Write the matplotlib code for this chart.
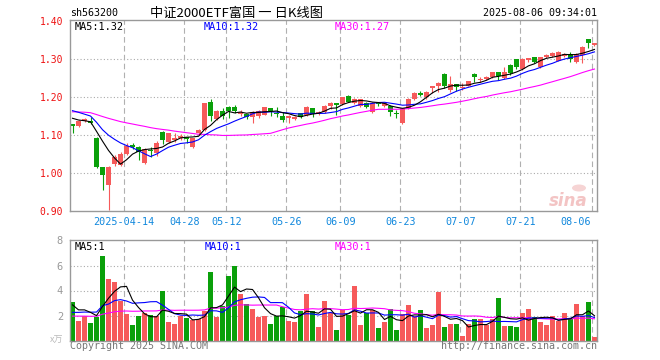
import matplotlib.pyplot as plt
from matplotlib.transforms import blended_transform_factory
from matplotlib.patches import Ellipse
import numpy as np
import pandas as pd

# daily K-line, 2025-03-31 .. 2025-08-06 (88 sessions)
opens = [1.129, 1.124, 1.136, 1.137, 1.093, 1.017, 0.968, 1.024, 1.022, 1.050,
         1.074, 1.068, 1.027, 1.061, 1.052, 1.108, 1.081, 1.087, 1.092, 1.094,
         1.068, 1.104, 1.113, 1.187, 1.141, 1.164, 1.174, 1.174, 1.156, 1.154,
         1.148, 1.150, 1.153, 1.170, 1.157, 1.150, 1.146, 1.141, 1.157, 1.153,
         1.170, 1.157, 1.161, 1.176, 1.183, 1.182, 1.203, 1.183, 1.176, 1.185,
         1.160, 1.185, 1.176, 1.176, 1.157, 1.131, 1.170, 1.195, 1.211, 1.201,
         1.224, 1.229, 1.261, 1.218, 1.234, 1.223, 1.229, 1.261, 1.244, 1.247,
         1.252, 1.266, 1.249, 1.284, 1.300, 1.273, 1.297, 1.304, 1.278, 1.306,
         1.309, 1.296, 1.309, 1.313, 1.293, 1.311, 1.352, 1.337]
highs = [1.130, 1.139, 1.144, 1.147, 1.096, 1.017, 1.019, 1.047, 1.056, 1.079,
         1.078, 1.070, 1.065, 1.068, 1.084, 1.110, 1.106, 1.106, 1.102, 1.095,
         1.092, 1.116, 1.185, 1.194, 1.166, 1.170, 1.175, 1.179, 1.165, 1.156,
         1.163, 1.165, 1.174, 1.172, 1.173, 1.160, 1.152, 1.150, 1.159, 1.175,
         1.172, 1.164, 1.178, 1.187, 1.185, 1.201, 1.205, 1.197, 1.196, 1.187,
         1.186, 1.188, 1.185, 1.178, 1.166, 1.171, 1.197, 1.213, 1.216, 1.216,
         1.230, 1.239, 1.262, 1.254, 1.235, 1.238, 1.243, 1.262, 1.252, 1.255,
         1.267, 1.267, 1.278, 1.286, 1.301, 1.302, 1.303, 1.305, 1.306, 1.313,
         1.318, 1.322, 1.317, 1.318, 1.315, 1.333, 1.353, 1.342]
lows = [1.105, 1.122, 1.134, 1.128, 1.012, 0.955, 0.903, 1.019, 1.018, 1.048,
        1.062, 1.034, 1.024, 1.043, 1.045, 1.077, 1.078, 1.082, 1.088, 1.079,
        1.066, 1.100, 1.111, 1.138, 1.139, 1.141, 1.145, 1.157, 1.150, 1.141,
        1.131, 1.144, 1.152, 1.150, 1.148, 1.134, 1.131, 1.139, 1.146, 1.151,
        1.148, 1.153, 1.159, 1.168, 1.153, 1.180, 1.186, 1.182, 1.174, 1.171,
        1.158, 1.176, 1.174, 1.150, 1.144, 1.129, 1.168, 1.193, 1.203, 1.196,
        1.211, 1.214, 1.223, 1.214, 1.216, 1.218, 1.228, 1.240, 1.240, 1.245,
        1.251, 1.245, 1.247, 1.258, 1.273, 1.270, 1.291, 1.290, 1.276, 1.302,
        1.305, 1.295, 1.305, 1.293, 1.290, 1.290, 1.330, 1.335]
closes = [1.124, 1.137, 1.141, 1.131, 1.015, 0.995, 1.015, 1.042, 1.050, 1.072,
          1.069, 1.055, 1.062, 1.058, 1.079, 1.088, 1.104, 1.093, 1.097, 1.089,
          1.091, 1.113, 1.183, 1.150, 1.164, 1.150, 1.163, 1.164, 1.161, 1.148,
          1.161, 1.163, 1.173, 1.164, 1.155, 1.139, 1.150, 1.148, 1.148, 1.174,
          1.155, 1.161, 1.176, 1.185, 1.179, 1.199, 1.188, 1.194, 1.194, 1.173,
          1.184, 1.182, 1.183, 1.161, 1.155, 1.170, 1.195, 1.211, 1.206, 1.214,
          1.229, 1.238, 1.229, 1.234, 1.226, 1.227, 1.242, 1.252, 1.246, 1.253,
          1.266, 1.255, 1.266, 1.262, 1.280, 1.300, 1.302, 1.293, 1.304, 1.310,
          1.315, 1.318, 1.314, 1.299, 1.313, 1.332, 1.341, 1.341]
volumes = [3.1, 1.6, 1.95, 1.4, 1.9, 6.75, 4.9, 4.7, 3.2, 2.1,
           1.25, 1.95, 2.2, 2.05, 2.0, 3.95, 1.5, 1.3, 2.0, 1.8,
           1.65, 1.7, 2.4, 5.5, 1.9, 2.75, 5.2, 6.0, 3.7, 2.95,
           2.55, 1.9, 2.0, 1.35, 1.95, 2.65, 1.55, 1.45, 2.35, 3.7,
           2.35, 1.05, 3.2, 2.2, 0.85, 2.45, 2.05, 4.35, 1.25, 2.2,
           2.45, 1.0, 1.5, 2.5, 0.85, 2.1, 2.85, 1.95, 2.45, 1.0,
           1.25, 3.85, 1.1, 1.3, 1.3, 0.4, 1.3, 1.7, 1.7, 1.25,
           1.7, 3.4, 1.2, 1.15, 1.1, 2.2, 2.5, 1.85, 1.5, 1.25,
           1.95, 1.55, 2.2, 1.7, 2.9, 1.95, 3.05, 0.3]

# sessions before the window (only feed the moving averages), estimated from where the MA lines start
pre_closes = [1.15, 1.16, 1.17, 1.16, 1.15, 1.16, 1.17, 1.18, 1.17, 1.16,
              1.15, 1.15, 1.16, 1.16, 1.15, 1.16, 1.17, 1.16, 1.15, 1.15,
              1.18, 1.19, 1.18, 1.18, 1.19, 1.16, 1.15, 1.145, 1.141]
pre_volumes = [1.6, 2.0, 1.8, 1.7, 1.9, 2.1, 1.6, 1.8, 1.7, 1.9,
               1.8, 1.6, 2.0, 1.9, 1.7, 1.8, 1.9, 1.7, 1.8, 1.7,
               1.6, 1.7, 1.5, 1.8, 1.65, 3.6, 1.95, 2.4, 3.2]

tick_idx = [9, 19, 26, 36, 45, 55, 65, 75, 87]
tick_labels = ["2025-04-14", "04-28", "05-12", "05-26", "06-09", "06-23", "07-07", "07-21", "08-06"]
price_ticks = [1.40, 1.30, 1.20, 1.10, 1.00, 0.90]
vol_ticks = [2, 4, 6, 8]
price_ma_text = ["MA5:1.32", "MA10:1.32", "MA30:1.27"]
vol_ma_text = ["MA5:1", "MA10:1", "MA30:1"]

RED = "#f65a5a"
GREEN = "#0aa00a"
MA_COLORS = {5: "black", 10: "#0000ff", 30: "#ff00ff"}
MONO = "DejaVu Sans Mono"
GRID = "#aaaaaa"

n = len(closes)
x = np.arange(n)
o = np.array(opens)
c = np.array(closes)
colors = np.where(c >= o, RED, GREEN)

price_all = pd.Series(pre_closes + closes)
vol_all = pd.Series(pre_volumes + volumes)
price_ma = {k: price_all.rolling(k).mean().values[-n:] for k in (5, 10, 30)}
vol_ma = {k: vol_all.rolling(k).mean().values[-n:] for k in (5, 10, 30)}

W, H = 660, 360
fig = plt.figure(figsize=(W / 100, H / 100), dpi=100)
ax = fig.add_axes([70 / W, 1 - 211 / H, 527 / W, 191 / H])
axv = fig.add_axes([70 / W, 1 - 340.5 / H, 527 / W, 100.5 / H])

xlim = (-0.42, n - 1 + 0.42)
grid_x = [i - 0.37 for i in tick_idx]

# ---- price panel
ax.vlines(x, lows, highs, colors=colors, lw=0.8, zorder=2)
ax.bar(x, np.maximum(np.abs(c - o), 0.0026), bottom=np.minimum(o, c),
       width=0.82, color=colors, linewidth=0, zorder=2)
for k in (30, 10, 5):
    ax.plot(x, price_ma[k], color=MA_COLORS[k], lw=0.8, zorder=3)
ax.set_xlim(*xlim)
ax.set_ylim(0.90, 1.4026)
ax.set_yticks(price_ticks)
ax.set_yticklabels([f"{v:.2f}" for v in price_ticks], color="#ee1111",
                   fontfamily=MONO, fontsize=7)
for v in price_ticks[1:-1]:
    ax.axhline(v, color=GRID, lw=0.8, ls=(0, (1, 2)), zorder=1)

# ---- volume panel
axv.bar(x, volumes, width=0.82, color=colors, linewidth=0, zorder=2)
for k in (30, 10, 5):
    axv.plot(x, vol_ma[k], color=MA_COLORS[k], lw=0.8, zorder=3)
axv.set_xlim(*xlim)
axv.set_ylim(0, 8.04)
axv.set_yticks(vol_ticks)
axv.set_yticklabels([str(v) for v in vol_ticks], color="#999999",
                    fontfamily=MONO, fontsize=7.5)
for v in vol_ticks[:-1]:
    axv.axhline(v, color=GRID, lw=0.8, ls=(0, (1, 2)), zorder=1)

for a in (ax, axv):
    a.set_xticks([])
    a.tick_params(axis="y", length=0, pad=5)
    for gx in grid_x:
        a.axvline(gx, color="#b0b0b0", lw=0.8, ls=(0, (5, 3)), zorder=1)
    for s in a.spines.values():
        s.set_color("#999999")
        s.set_linewidth(1)

# date labels under the price panel
trans = blended_transform_factory(ax.transData, ax.transAxes)
for gx, lab in zip(grid_x, tick_labels):
    last = lab == tick_labels[-1]
    ax.text(gx - 0.25 if last else gx, -0.056, lab, transform=trans,
            ha="right" if last else "center", va="center",
            color="#1188dd", fontfamily=MONO, fontsize=7.3)


def px(xp, yp):
    return xp / W, 1 - yp / H


# MA legends
ma_txt = dict(fontfamily=MONO, fontsize=7.4, va="center", ha="left")
for xp, s, k in zip((75, 204, 335), price_ma_text, (5, 10, 30)):
    fig.text(*px(xp, 27), s, color=MA_COLORS[k], **ma_txt)
for xp, s, k in zip((75, 205, 335), vol_ma_text, (5, 10, 30)):
    fig.text(*px(xp, 247), s, color=MA_COLORS[k], **ma_txt)

# header
fig.text(*px(70, 13), "sh563200", fontfamily=MONO, fontsize=7.2, va="center", ha="left")
fig.text(*px(150, 13), "中证2000ETF富国 一 日K线图", fontfamily=["Noto Sans CJK SC", "DejaVu Sans"],
         fontsize=9.5, va="center", ha="left")
fig.text(*px(597, 13), "2025-08-06 09:34:01", fontfamily=MONO, fontsize=7.2, va="center", ha="right")

# footer
fig.text(*px(63, 340), "x万", fontfamily=["Noto Sans CJK SC", "DejaVu Sans"], fontsize=6.5,
         color="#bbbbbb", va="center", ha="right")
fig.text(*px(70, 346), "Copyright 2025 SINA.COM", fontfamily=MONO, fontsize=7.2,
         color="#777777", va="center", ha="left")
fig.text(*px(597, 346), "http://finance.sina.com.cn", fontfamily=MONO, fontsize=7.2,
         color="#777777", va="center", ha="right")

# sina watermark
fig.text(*px(568, 201), "sina", fontsize=12, fontweight="bold", fontstyle="italic",
         color="#f3c4c4", va="center", ha="center", zorder=0)
fig.patches.append(Ellipse(px(579, 188), 14 / W, 7 / H, transform=fig.transFigure,
                           facecolor="#f6d4d4", edgecolor="none", zorder=0))

fig.savefig("out.png", dpi=100)
